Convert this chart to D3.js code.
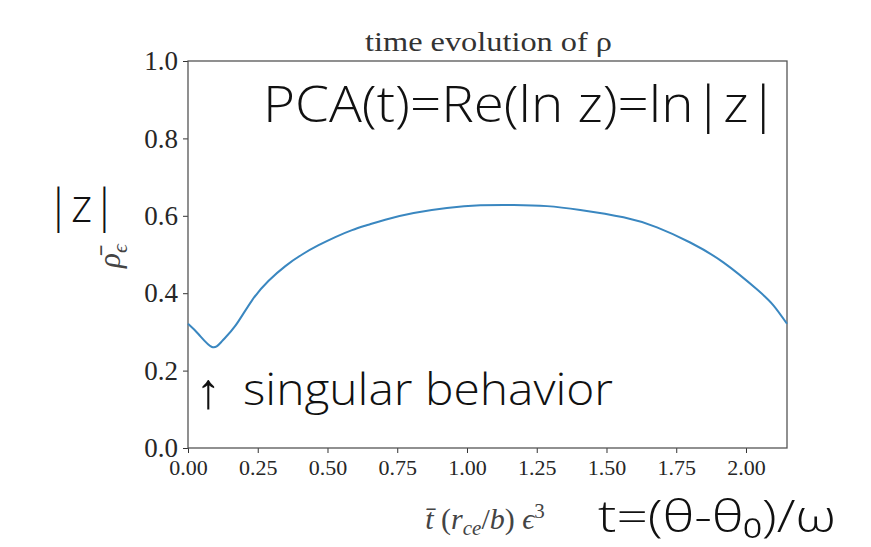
<!DOCTYPE html>
<html>
<head>
<meta charset="utf-8">
<script src="https://cdn.jsdelivr.net/npm/d3@7"></script>
<style>
body { margin: 0; background: white; }
.tick text { font-family: "Liberation Serif", "Times New Roman", serif; fill: #262626; }
.hand { font-family: "Open Sans", sans-serif; font-weight: 300; fill: #111; }
</style>
</head>
<body>
<svg></svg>
<script>
var screen = {width: 871, height: 547}
var margins = {top: 61, right: 84, bottom: 99, left: 188}

// values
var tValues = [0, 0.038, 0.086, 0.122, 0.170, 0.229, 0.289, 0.349, 0.409, 0.468, 0.528, 0.588,
               0.647, 0.707, 0.809, 0.928, 1.048, 1.167, 1.287, 1.406, 1.561, 1.681,
               1.800, 1.920, 2.039, 2.099, 2.147]
var rhoValues = [0.321, 0.294, 0.261, 0.276, 0.316, 0.381, 0.432, 0.470, 0.500, 0.524, 0.545, 0.563,
                 0.577, 0.590, 0.607, 0.620, 0.627, 0.628, 0.625, 0.615, 0.596, 0.570,
                 0.531, 0.479, 0.410, 0.368, 0.321]
var xTicks = [0, 0.25, 0.5, 0.75, 1.0, 1.25, 1.5, 1.75, 2.0]
var yTicks = [0, 0.2, 0.4, 0.6, 0.8, 1.0]
var xMax = 2.147

var svg = d3.select("svg")
    .attr("width", screen.width)
    .attr("height", screen.height)

var width = screen.width - margins.left - margins.right;
var height = screen.height - margins.top - margins.bottom;

var xScale = d3.scaleLinear()
                .domain([0, xMax])
                .range([0, width])

var yScale = d3.scaleLinear()
                .domain([0, 1])
                .range([height, 0])

var plot = svg.append("g")
    .attr("id", "plot")
    .attr("transform", "translate(" + margins.left + "," + margins.top + ")")

//
//AXES
//
var xAxis = d3.axisBottom(xScale)
    .tickValues(xTicks)
    .tickFormat(d3.format(".2f"))
    .tickSize(5)
    .tickPadding(6)
var yAxis = d3.axisLeft(yScale)
    .tickValues(yTicks)
    .tickFormat(d3.format(".1f"))
    .tickSize(5)
    .tickPadding(5)

plot.append("g")
    .attr("id", "xAxis")
    .attr("transform", "translate(0," + height + ")")
    .call(xAxis)
    .style("font-size", "22px")

plot.append("g")
    .attr("id", "yAxis")
    .call(yAxis)
    .style("font-size", "27px")

plot.selectAll(".domain").remove()
plot.selectAll(".tick line").attr("stroke", "#333")

// frame
plot.append("rect")
    .attr("x", 0)
    .attr("y", 0)
    .attr("width", width)
    .attr("height", height)
    .attr("fill", "none")
    .attr("stroke", "#555")
    .attr("stroke-width", 1.3)

// the curve
var points = tValues.map(function(t, i) { return [t, rhoValues[i]] })

var line = d3.line()
    .x(function(d) { return xScale(d[0]) })
    .y(function(d) { return yScale(d[1]) })
    .curve(d3.curveNatural)

plot.append("path")
    .datum(points)
    .attr("d", line)
    .attr("fill", "none")
    .attr("stroke", "#3a87c0")
    .attr("stroke-width", 2)

// title + axis labels
svg.append("text")
    .attr("x", 365)
    .attr("y", 51)
    .style("font-family", "Liberation Serif, serif")
    .style("font-size", "27px")
    .style("fill", "#333")
    .attr("textLength", 247)
    .attr("lengthAdjust", "spacingAndGlyphs")
    .text("time evolution of ρ")

var xLabel = svg.append("text")
    .attr("x", 485)
    .attr("y", 529)
    .attr("text-anchor", "middle")
    .style("font-family", "Liberation Serif, serif")
    .style("font-size", "30px")
    .style("fill", "#444")
xLabel.append("tspan").style("font-style", "italic").text("t\u0304")
xLabel.append("tspan").text(" (")
xLabel.append("tspan").style("font-style", "italic").text("r")
xLabel.append("tspan").style("font-style", "italic").attr("dy", 6).style("font-size", "21px").text("ce")
xLabel.append("tspan").attr("dy", -6).text("/")
xLabel.append("tspan").style("font-style", "italic").text("b")
xLabel.append("tspan").text(") ")
xLabel.append("tspan").style("font-style", "italic").text("ϵ")
xLabel.append("tspan").attr("dy", -11).style("font-size", "21px").text("3")

var yLabel = svg.append("text")
    .attr("transform", "translate(120,256) rotate(-90)")
    .attr("text-anchor", "middle")
    .style("font-family", "Liberation Serif, serif")
    .style("font-size", "31px")
    .style("fill", "#444")
yLabel.append("tspan").style("font-style", "italic").text("ρ\u0304")
yLabel.append("tspan").style("font-style", "italic").attr("dy", 7).style("font-size", "22px").text("ϵ")

// handwritten notes
svg.append("text")
    .attr("class", "hand")
    .attr("x", 263)
    .attr("y", 122)
    .style("font-size", "50px")
    .attr("textLength", 515)
    .attr("lengthAdjust", "spacingAndGlyphs")
    .text("PCA(t)=Re(ln z)=ln|z|")

svg.append("text")
    .attr("class", "hand")
    .attr("x", 46)
    .attr("y", 222)
    .style("font-size", "46px")
    .text("|z|")

svg.append("text")
    .attr("class", "hand")
    .attr("x", 196)
    .attr("y", 408)
    .style("font-size", "50px")
    .style("font-weight", "700")
    .text("↑")

svg.append("text")
    .attr("class", "hand")
    .attr("x", 243)
    .attr("y", 405)
    .style("font-size", "44px")
    .attr("textLength", 370)
    .attr("lengthAdjust", "spacingAndGlyphs")
    .text("singular behavior")

svg.append("text")
    .attr("class", "hand")
    .attr("x", 598)
    .attr("y", 532)
    .style("font-size", "44px")
    .attr("textLength", 238)
    .attr("lengthAdjust", "spacingAndGlyphs")
    .text("t=(θ-θ₀)/ω")
</script>
</body>
</html>
